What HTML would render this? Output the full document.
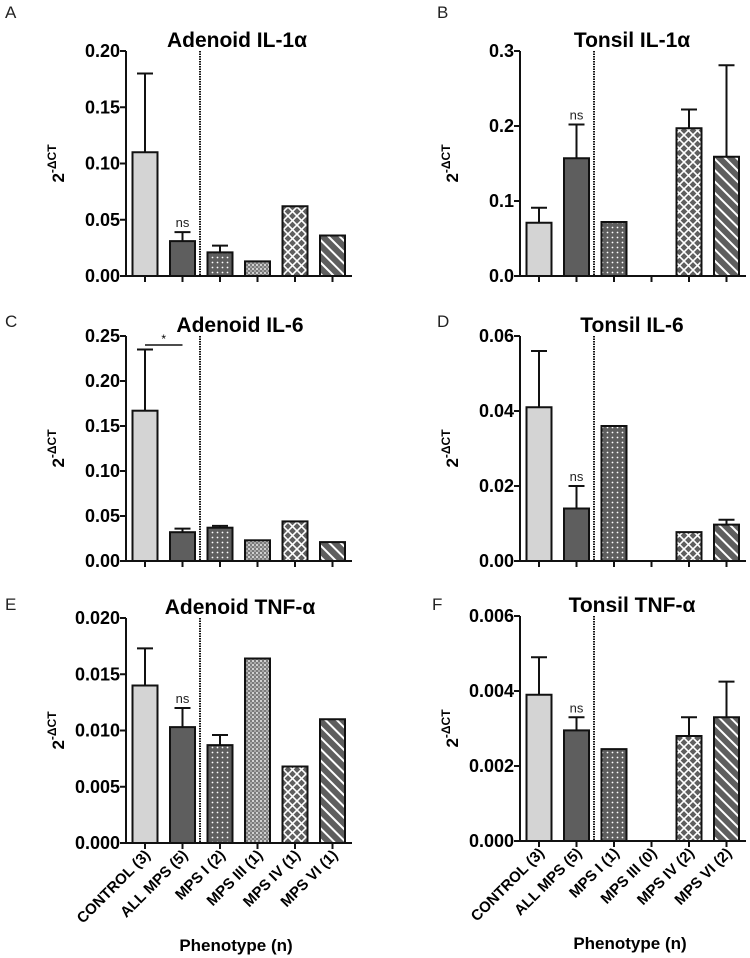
<!DOCTYPE html>
<html><head><meta charset="utf-8"><style>
body{margin:0;background:#fff;}
svg{display:block;font-family:"Liberation Sans",Arial,sans-serif;}
</style></head><body>
<svg id="fig" width="750" height="958" viewBox="0 0 750 958">
<defs>
<pattern id="pDots" width="5" height="5" patternUnits="userSpaceOnUse"><rect width="5" height="5" fill="#5e5e5e"/><circle cx="2.5" cy="2.5" r="0.9" fill="#fff"/></pattern>
<pattern id="pFine" width="4" height="4" patternUnits="userSpaceOnUse"><rect width="4" height="4" fill="#7a7a7a"/><rect x="0" y="0" width="2" height="2" fill="#d0d0d0"/><rect x="2" y="2" width="2" height="2" fill="#a8a8a8"/></pattern>
<pattern id="pCross" width="9" height="9" patternUnits="userSpaceOnUse"><rect width="9" height="9" fill="#5e5e5e"/><path d="M0 0L9 9M9 0L0 9" stroke="#fff" stroke-width="1.6"/></pattern>
<pattern id="pDiag" width="8" height="8" patternUnits="userSpaceOnUse" patternTransform="rotate(-45)"><rect width="8" height="8" fill="#5e5e5e"/><rect x="0" y="0" width="2" height="8" fill="#fff"/></pattern>
</defs>
</svg>
<script>
const categoriesLeft = ["CONTROL (3)","ALL MPS (5)","MPS I (2)","MPS III (1)","MPS IV (1)","MPS VI (1)"];
const categoriesRight = ["CONTROL (3)","ALL MPS (5)","MPS I (1)","MPS III (0)","MPS IV (2)","MPS VI (2)"];
const adenoidIL1aValues = [0.110,0.031,0.021,0.013,0.062,0.036];
const adenoidIL1aErrors = [0.180,0.039,0.027,null,null,null];
const tonsilIL1aValues = [0.071,0.157,0.072,null,0.197,0.159];
const tonsilIL1aErrors = [0.091,0.202,null,null,0.222,0.281];
const adenoidIL6Values = [0.167,0.032,0.037,0.023,0.044,0.021];
const adenoidIL6Errors = [0.235,0.036,0.039,null,null,null];
const tonsilIL6Values = [0.041,0.014,0.036,null,0.0077,0.0097];
const tonsilIL6Errors = [0.056,0.020,null,null,null,0.011];
const adenoidTNFValues = [0.0140,0.0103,0.0087,0.0164,0.0068,0.0110];
const adenoidTNFErrors = [0.0173,0.0120,0.0096,null,null,null];
const tonsilTNFValues = [0.0039,0.00295,0.00245,null,0.0028,0.0033];
const tonsilTNFErrors = [0.0049,0.0033,null,null,0.0033,0.00425];
const ticksA = ["0.00","0.05","0.10","0.15","0.20"];
const ticksB = ["0.0","0.1","0.2","0.3"];
const ticksC = ["0.00","0.05","0.10","0.15","0.20","0.25"];
const ticksD = ["0.00","0.02","0.04","0.06"];
const ticksE = ["0.000","0.005","0.010","0.015","0.020"];
const ticksF = ["0.000","0.002","0.004","0.006"];

const fills=["#d4d4d4","#5e5e5e","url(#pDots)","url(#pFine)","url(#pCross)","url(#pDiag)"];
const NS="http://www.w3.org/2000/svg";
const svg=document.getElementById('fig');
function mk(tag,attrs,parent,text){const e=document.createElementNS(NS,tag);for(const k in attrs)e.setAttribute(k,attrs[k]);if(text!=null)e.textContent=text;(parent||svg).appendChild(e);return e;}

function panel(o){
  const g=mk('g',{});
  
  
  const top=o.top,bot=o.top+225,ax=o.ax,xEnd=ax+226;
  const ymax=parseFloat(o.ticks[o.ticks.length-1]);
  const y=v=>bot-(v/ymax)*(bot-top);
  const xc=i=>ax+19+i*37.5;
  const L=mk('text',{x:o.lx,y:o.ly,'font-size':17,fill:'#222'},g,o.letter);
  
  const T=mk('text',{x:o.tx,y:top-4,'font-size':21,'font-weight':'bold','text-anchor':'middle'},g,o.title);
  
  const yl=mk('text',{transform:`translate(${ax-62},${(top+bot)/2}) rotate(-90)`,'font-size':17,'font-weight':'bold','text-anchor':'middle'},g);
  
  mk('tspan',{},yl,'2');mk('tspan',{dy:-8,'font-size':12},yl,'-ΔCT');
  o.values.forEach((v,i)=>{
    if(v==null)return;
    const e=o.errors[i];
    if(e!=null){
      const ln=mk('path',{d:`M${xc(i)} ${y(v)}V${y(e)}M${xc(i)-8} ${y(e)}H${xc(i)+8}`,stroke:'#111','stroke-width':2,fill:'none'},g);
      
    }
    const r=mk('rect',{x:xc(i)-12.5,y:y(v),width:25,height:bot-y(v),fill:fills[i],stroke:'#111','stroke-width':2},g);
    
    
  });
  const axis=mk('path',{d:`M${ax} ${top}V${bot}H${xEnd}`,stroke:'#111','stroke-width':2,fill:'none'},g);
  
  o.ticks.forEach(t=>{
    const yy=y(parseFloat(t));
    mk('path',{d:`M${ax-6} ${yy}H${ax}`,stroke:'#111','stroke-width':2},g);
    const tl=mk('text',{x:ax-6,y:yy+6,'font-size':18,'font-weight':'bold','text-anchor':'end'},g,t);
    
  });
  o.cats.forEach((c,i)=>{
    mk('path',{d:`M${xc(i)} ${bot}V${bot+6}`,stroke:'#111','stroke-width':2},g);
    if(o.xlabels){
      const xl=mk('text',{transform:`translate(${xc(i)+6},${bot+13}) rotate(-45)`,'font-size':15,'font-weight':'bold','text-anchor':'end'},g,c);
      
    }
  });
  const dv=mk('line',{x1:ax+74,y1:top,x2:ax+74,y2:bot,stroke:'#111','stroke-width':2,'stroke-dasharray':'1.5 1'},g);
  
  if(o.ns){const n=mk('text',{x:xc(1),y:y(o.errors[1])-5,'font-size':13,'text-anchor':'middle',fill:'#222'},g,'ns');
    }
  if(o.star){const yy=y(o.star);
    mk('line',{x1:xc(0),x2:xc(1),y1:yy,y2:yy,stroke:'#111','stroke-width':1.5},g);
    const s=mk('text',{x:(xc(0)+xc(1))/2,y:yy-2,'font-size':12,'text-anchor':'middle'},g,'*');
    }
  if(o.xlabels){const xt=mk('text',{x:ax+110,y:bot+108,'font-size':17,'font-weight':'bold','text-anchor':'middle'},g,'Phenotype (n)');
    }
}
panel({letter:'A',lx:5,ly:18,tx:237,ax:126,top:51,title:'Adenoid IL-1α',cats:categoriesLeft,values:adenoidIL1aValues,errors:adenoidIL1aErrors,ticks:ticksA,ns:true});
panel({letter:'B',lx:437,ly:18,tx:632,ax:520,top:51,title:'Tonsil IL-1α',cats:categoriesRight,values:tonsilIL1aValues,errors:tonsilIL1aErrors,ticks:ticksB,ns:true});
panel({letter:'C',lx:5,ly:327,tx:240,ax:126,top:336,title:'Adenoid IL-6',cats:categoriesLeft,values:adenoidIL6Values,errors:adenoidIL6Errors,ticks:ticksC,star:0.24});
panel({letter:'D',lx:437,ly:327,tx:632,ax:520,top:336,title:'Tonsil IL-6',cats:categoriesRight,values:tonsilIL6Values,errors:tonsilIL6Errors,ticks:ticksD,ns:true});
panel({letter:'E',lx:5,ly:610,tx:240,ax:126,top:618,title:'Adenoid TNF-α',cats:categoriesLeft,values:adenoidTNFValues,errors:adenoidTNFErrors,ticks:ticksE,ns:true,xlabels:true});
panel({letter:'F',lx:432,ly:610,tx:632,ax:520,top:616,title:'Tonsil TNF-α',cats:categoriesRight,values:tonsilTNFValues,errors:tonsilTNFErrors,ticks:ticksF,ns:true,xlabels:true});
</script>
</body></html>
